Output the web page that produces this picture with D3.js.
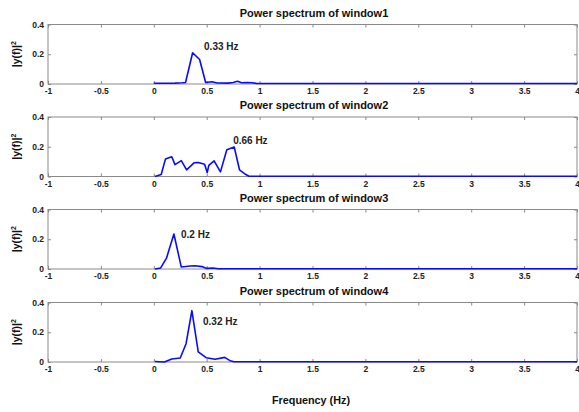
<!DOCTYPE html>
<html><head><meta charset="utf-8">
<script src="https://cdn.jsdelivr.net/npm/d3@7"></script>
<style>body{margin:0;background:#fff}svg{display:block}</style>
</head><body>
<script>
const titles = ["Power spectrum of window1","Power spectrum of window2","Power spectrum of window3","Power spectrum of window4"];
const peakLabels = ["0.33 Hz","0.66 Hz","0.2 Hz","0.32 Hz"];
const peakLabelPos = [[0.475,0.255],[0.75,0.239],[0.257,0.235],[0.465,0.275]];
const xTicks = [-1,-0.5,0,0.5,1,1.5,2,2.5,3,3.5,4];
const yTicks = [0,0.2,0.4];
const win1 = [[0,0.005],[0.1,0.005],[0.2,0.006],[0.27,0.008],[0.3,0.01],[0.367,0.21],[0.433,0.165],[0.49,0.01],[0.55,0.015],[0.6,0.007],[0.7,0.006],[0.75,0.01],[0.79,0.018],[0.83,0.008],[0.88,0.01],[0.93,0.008],[0.97,0.004],[1.0,0.003],[4,0.003]];
const win2 = [[0.01,0.0],[0.07,0.013],[0.11,0.117],[0.17,0.133],[0.2,0.08],[0.26,0.107],[0.31,0.045],[0.38,0.092],[0.42,0.094],[0.48,0.083],[0.505,0.027],[0.52,0.075],[0.57,0.105],[0.63,0.031],[0.69,0.18],[0.76,0.198],[0.81,0.045],[0.87,0.013],[0.9,0.002],[4,0.002]];
const win3 = [[0.01,0.0],[0.065,0.007],[0.12,0.073],[0.19,0.235],[0.26,0.013],[0.345,0.02],[0.39,0.022],[0.455,0.016],[0.5,0.004],[0.56,0.007],[0.61,0.002],[4,0.002]];
const win4 = [[0.01,0.003],[0.1,0.0],[0.17,0.02],[0.25,0.027],[0.305,0.123],[0.36,0.345],[0.42,0.068],[0.495,0.029],[0.58,0.018],[0.67,0.031],[0.72,0.009],[0.76,0.002],[4,0.002]];
const series = [win1,win2,win3,win4];

const W=579,H=412;
const svg=d3.select("body").append("svg").attr("width",W).attr("height",H);
const font="Arial, 'Liberation Sans', sans-serif";
const x=d3.scaleLinear().domain([-1,4]).range([48,577]);
const panelTops=[24.5,117,209.5,302.5], ph=59.5;
const frameC="#8a8a8a";

series.forEach((data,i)=>{
  const top=panelTops[i];
  const y=d3.scaleLinear().domain([0,0.4]).range([top+ph,top]);
  const g=svg.append("g");
  g.append("rect").attr("x",48).attr("y",top).attr("width",529).attr("height",ph)
    .attr("fill","none").attr("stroke",frameC).attr("stroke-width",1);
  const xb=g.append("g").attr("transform",`translate(0,${top+ph})`)
    .call(d3.axisBottom(x).tickValues(xTicks).tickSizeInner(-3).tickSizeOuter(0).tickPadding(4).tickFormat(d=>String(d)));
  const xt=g.append("g").attr("transform",`translate(0,${top})`)
    .call(d3.axisTop(x).tickValues(xTicks).tickSizeInner(-3).tickSizeOuter(0).tickFormat(""));
  const yl=g.append("g").attr("transform",`translate(48,0)`)
    .call(d3.axisLeft(y).tickValues(yTicks).tickSizeInner(-3).tickSizeOuter(0).tickPadding(4).tickFormat(d=>String(d)));
  const yr=g.append("g").attr("transform",`translate(577,0)`)
    .call(d3.axisRight(y).tickValues(yTicks).tickSizeInner(-3).tickSizeOuter(0).tickFormat(""));
  [xb,xt,yl,yr].forEach(a=>{
    a.select(".domain").remove();
    a.selectAll("line").attr("stroke",frameC);
    a.selectAll("text").attr("font-family",font).attr("font-size",8.5).attr("font-weight","bold").attr("fill","#222");
  });
  xb.selectAll("text").attr("dy","0.75em");
  g.append("path").datum(data)
    .attr("d",d3.line().x(d=>x(d[0])).y(d=>y(d[1])))
    .attr("fill","none").attr("stroke","#0a0aff").attr("stroke-width",1.6).attr("stroke-linejoin","round");
  g.append("text").attr("x",314).attr("y",top-8).attr("text-anchor","middle")
    .attr("font-family",font).attr("font-size",11).attr("font-weight","bold").attr("fill","#111").text(titles[i]);
  g.append("text").attr("x",x(peakLabelPos[i][0])).attr("y",y(peakLabelPos[i][1])+3.5)
    .attr("font-family",font).attr("font-size",10).attr("font-weight","bold").attr("fill","#222").text(peakLabels[i]);
  const yt=g.append("text").attr("transform",`translate(20,${top+ph/2}) rotate(-90)`).attr("text-anchor","middle")
    .attr("font-family",font).attr("font-size",10.5).attr("font-weight","bold").attr("fill","#111");
  yt.append("tspan").text("|y(f)|");
  yt.append("tspan").attr("dy",-4).attr("font-size",7).text("2");
});
svg.append("text").attr("x",311).attr("y",404).attr("text-anchor","middle")
  .attr("font-family",font).attr("font-size",10.8).attr("font-weight","bold").attr("fill","#111").text("Frequency (Hz)");
</script>
</body></html>
